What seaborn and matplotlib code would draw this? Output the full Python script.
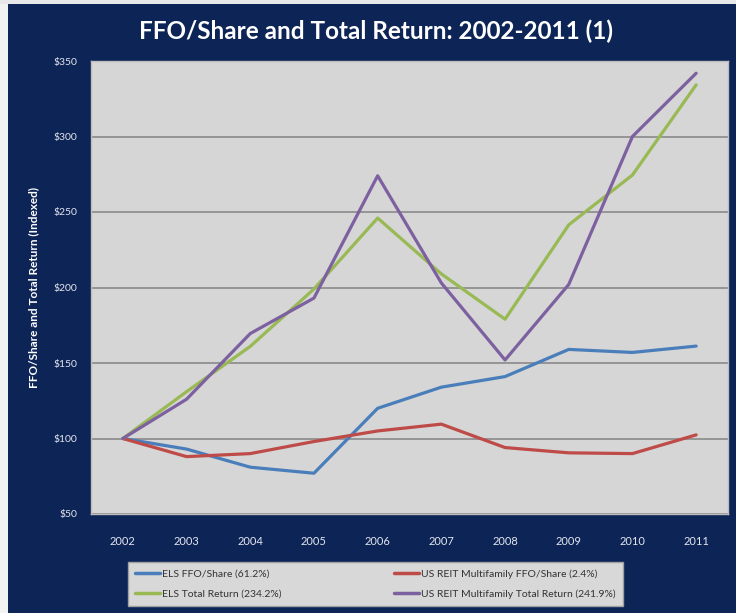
import pandas as pd
import matplotlib
matplotlib.use("Agg")
import matplotlib.pyplot as plt
import matplotlib.patches as mpatches
import seaborn as sns

# dados (indexado, 2002 = 100)
years = [2002, 2003, 2004, 2005, 2006, 2007, 2008, 2009, 2010, 2011]
els_ffo = [100, 93, 81, 77, 120, 134, 141, 159, 157, 161.2]
reit_ffo = [100, 88, 90, 98, 105, 109.5, 94, 90.5, 90, 102.4]
els_tr = [100, 131, 161, 199, 246, 209, 179, 241.5, 274.5, 334.2]
reit_tr = [100, 126, 169.5, 193, 274, 203, 152, 202, 300, 341.9]

series_names = [
    "ELS FFO/Share (61.2%)",
    "US REIT Multifamily FFO/Share (2.4%)",
    "ELS Total Return (234.2%)",
    "US REIT Multifamily Total Return (241.9%)",
]
series_values = [els_ffo, reit_ffo, els_tr, reit_tr]
colors = ["#4a7ebb", "#be4b48", "#98b954", "#7d60a0"]

yticks = [50, 100, 150, 200, 250, 300, 350]
ytick_labels = ["$" + str(v) for v in yticks]

navy = "#0d2457"

# monta dataframe longo
rows = []
for name, vals in zip(series_names, series_values):
    for i, (yr, v) in enumerate(zip(years, vals)):
        rows.append({"pos": i, "year": yr, "serie": name, "valor": v})
df = pd.DataFrame(rows)

sns.set_theme(style="white")
plt.rcParams["font.family"] = ["Lato", "DejaVu Sans"]

fig = plt.figure(figsize=(7.36, 6.13), dpi=100, facecolor=navy)
# faixa clara nas bordas (recorte da imagem original)
fig.patches.append(mpatches.Rectangle((0, 0), 8 / 736, 1, transform=fig.transFigure,
                                      facecolor="#f2f2f2", edgecolor="none", zorder=-1))
fig.patches.append(mpatches.Rectangle((0, 1 - 4 / 613), 1, 4 / 613, transform=fig.transFigure,
                                      facecolor="#e8e8ea", edgecolor="none", zorder=-1))

ax = fig.add_axes([91 / 736, 1 - 514 / 613, (728 - 91) / 736, (514 - 61) / 613])
ax.set_facecolor("#d6d6d6")

sns.lineplot(data=df, x="pos", y="valor", hue="serie", hue_order=series_names,
             palette=colors, linewidth=2.3, ax=ax, legend=False)

ax.set_xlim(-0.5, len(years) - 0.5)
ax.set_ylim(50, 350)
ax.set_yticks(yticks)
ax.set_yticklabels(ytick_labels)
ax.set_xticks(range(len(years)))
ax.set_xticklabels([str(y) for y in years])
ax.tick_params(axis="y", colors="#e4e6ee", labelsize=7.5, length=0, pad=10)
ax.tick_params(axis="x", colors="#e4e6ee", labelsize=8, length=0, pad=16)
ax.yaxis.grid(True, color="#8a8a8a", linewidth=1.2)
ax.set_axisbelow(True)
for s in ax.spines.values():
    s.set_color("#bdbdbd")
    s.set_linewidth(1.0)

ax.set_xlabel("")
ax.set_ylabel("FFO/Share and Total Return (Indexed)", color="white",
              fontsize=8.5, fontweight="bold", labelpad=10)

fig.text(376 / 736, 1 - 31 / 613, "FFO/Share and Total Return: 2002-2011 (1)",
         color="white", fontsize=17.5, fontweight="bold", ha="center", va="center")

# legenda em duas colunas
handles = [plt.Line2D([], [], color=c, linewidth=2.5) for c in colors]
order = [0, 2, 1, 3]
leg = fig.legend([handles[i] for i in order], [series_names[i] for i in order],
                 ncol=2, loc="lower left",
                 bbox_to_anchor=(128 / 736, 1 - 606 / 613, (623 - 128) / 736, 45 / 613),
                 mode="expand", fontsize=7.5, frameon=True, fancybox=False,
                 handlelength=2.4, handletextpad=0.2, borderpad=0.7,
                 labelspacing=1.0, columnspacing=1.0, borderaxespad=0)
leg.get_frame().set_facecolor("#d8d8d8")
leg.get_frame().set_edgecolor("#a0a0a0")
leg.get_frame().set_alpha(1)
for t in leg.get_texts():
    t.set_color("#333333")

fig.savefig("out.png", dpi=100, facecolor=navy)
